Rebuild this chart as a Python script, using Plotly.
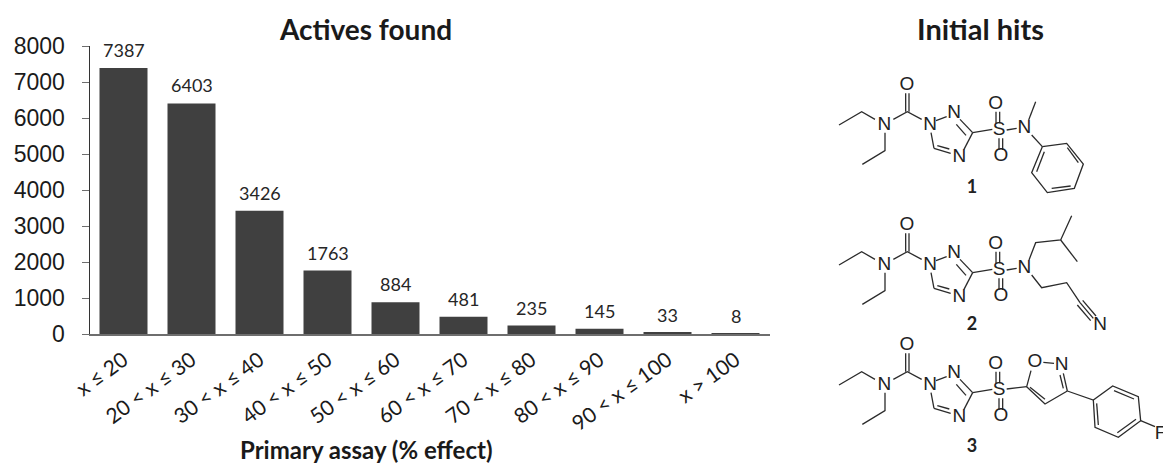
import plotly.graph_objects as go

W, H = 1163, 463
categories = ["x ≤ 20", "20 < x ≤ 30", "30 < x ≤ 40", "40 < x ≤ 50", "50 < x ≤ 60",
              "60 < x ≤ 70", "70 < x ≤ 80", "80 < x ≤ 90", "90 < x ≤ 100", "x > 100"]
actives = [7387, 6403, 3426, 1763, 884, 481, 235, 145, 33, 8]
y_ticks = [0, 1000, 2000, 3000, 4000, 5000, 6000, 7000, 8000]

# Structure drawings: polylines in reference-crop coordinates (3x zoom of an origin at 830, oy)
core_bonds = [
    [(27,195),(95,155),(135,178)], [(165,218),(165,272),(97,313)],
    [(190,178),(232,155),(275,178)], [(227,155),(227,100)], [(237,155),(237,100)],
    [(318,182),(350,170)], [(390,178),(428,218)], [(379,193),(408,226)],
    [(428,218),(487,208)], [(428,218),(402,268)], [(362,280),(312,265)], [(358,267),(322,257)],
    [(312,265),(303,218)], [(498,190),(498,155)], [(509,190),(509,155)],
    [(507,235),(507,270)], [(518,235),(518,270)],
]
core_atoms = [("O",231,75),("N",163,195),("N",300,195),("N",372,160),("S",507,212),
              ("N",388,292),("O",497,133),("O",513,290)]

mol1_bonds = [
    [(530,210),(560,205)], [(596,180),(617,125)], [(605,225),(637,260)],
    [(637,260),(710,250),(760,312),(733,385),(652,398),(605,338),(637,260)],
    [(712,263),(745,308)], [(722,378),(665,385)], [(620,335),(643,275)],
]
mol1_atoms = [("N",583,205)]
mol2_bonds = [
    [(530,210),(560,205)], [(597,180),(617,128),(692,120),(725,47)], [(692,120),(742,185)],
    [(605,225),(635,263),(710,248),(750,308)],
    [(750,308),(790,355)], [(742,315),(782,362)], [(758,301),(798,348)],
]
mol2_atoms = [("N",583,205),("N",810,375)]
mol3_bonds = [
    [(530,177),(590,170)], [(603,122),(590,170),(645,222),(712,183)], [(600,172),(645,208)],
    [(640,97),(672,100)], [(700,130),(712,183)], [(690,135),(700,175)],
    [(712,183),(790,210),(848,168),(925,200),(932,272),(865,322),(795,292),(790,210)],
    [(852,182),(912,207)], [(918,268),(862,308)], [(805,285),(800,220)],
    [(932,272),(975,290)],
]
mol3_atoms = [("O",615,98),("N",695,105),("F",992,312)]

molecules = [(60, 0, mol1_bonds, mol1_atoms), (200, 0, mol2_bonds, mol2_atoms), (330, -30, mol3_bonds, mol3_atoms)]
compound_labels = [("1", 972, 188), ("2", 972, 325), ("3", 972, 447)]

fig = go.Figure()
fig.add_bar(x=categories, y=actives, marker=dict(color="#404040", line=dict(width=0)),
            showlegend=False, hoverinfo="x+y")

bx, by, tx, ty, ts = [], [], [], [], []
for oy, dy, bonds, atoms in molecules:
    for poly in core_bonds:
        for (a, b) in poly:
            bx.append(830 + a / 3); by.append(oy + (b + dy) / 3)
        bx.append(None); by.append(None)
    for poly in bonds:
        for (a, b) in poly:
            bx.append(830 + a / 3); by.append(oy + b / 3)
        bx.append(None); by.append(None)
    for s, a, b in core_atoms:
        ts.append(s); tx.append(830 + a / 3); ty.append(oy + (b + dy) / 3)
    for s, a, b in atoms:
        ts.append(s); tx.append(830 + a / 3); ty.append(oy + b / 3)

fig.add_scatter(x=bx, y=by, mode="lines", xaxis="x2", yaxis="y2", showlegend=False, hoverinfo="skip",
                line=dict(color="#2b2b2b", width=1.3))
fig.add_scatter(x=tx, y=ty, mode="text", text=ts, xaxis="x2", yaxis="y2", showlegend=False, hoverinfo="skip",
                textposition="middle center", cliponaxis=False,
                textfont=dict(family="Liberation Sans", size=19, color="#222222"))
fig.add_scatter(x=[c[1] for c in compound_labels], y=[c[2] for c in compound_labels],
                text=["<b>%s</b>" % c[0] for c in compound_labels], mode="text", xaxis="x2", yaxis="y2",
                showlegend=False, hoverinfo="skip", textposition="middle center",
                textfont=dict(family="Lato", size=18, color="#222222"))

value_labels = [
    dict(text=str(v), x=c, y=v, xref="x", yref="y", showarrow=False, xanchor="center", yanchor="middle",
         yshift=18, font=dict(family="Lato", size=18, color="#262626"))
    for c, v in zip(categories, actives)
]

fig.update_layout(
    width=W, height=H, autosize=False, paper_bgcolor="white", plot_bgcolor="rgba(0,0,0,0)",
    margin=dict(l=0, r=0, t=0, b=0), bargap=0.294,
    title=dict(text="<b>Actives found</b>", x=366 / W, xanchor="center", y=1 - 30 / H, yanchor="middle",
               font=dict(family="Lato", size=28, color="#1a1a1a")),
    xaxis=dict(domain=[89.5 / W, 769.5 / W], type="category", tickangle=-36, ticks="", showgrid=False,
               showline=True, linecolor="#6e6e6e", linewidth=1.5, automargin=False, ticklabelstandoff=4,
               tickfont=dict(family="Lato", size=21, color="#1a1a1a")),
    yaxis=dict(domain=[1 - 334 / H, 1 - 46 / H], range=[0, 8000], tickvals=y_ticks, ticks="outside", ticklen=7,
               tickcolor="#6e6e6e", showgrid=False, zeroline=False, showline=True, linecolor="#333333", linewidth=1,
               automargin=False, ticklabelstandoff=12, tickfont=dict(family="Liberation Sans", size=23, color="#1a1a1a")),
    xaxis2=dict(domain=[0, 1], range=[0, W], visible=False, fixedrange=True, anchor="y2"),
    yaxis2=dict(domain=[0, 1], range=[H, 0], visible=False, fixedrange=True, anchor="x2"),
    annotations=value_labels + [
        dict(text="<b>Initial hits</b>", xref="paper", yref="paper", x=980 / W, y=1 - 28 / H,
             xanchor="center", yanchor="middle", showarrow=False,
             font=dict(family="Lato", size=29, color="#1a1a1a")),
        dict(text="<b>Primary assay (% effect)</b>", xref="paper", yref="paper", x=366 / W, y=1 - 449 / H,
             xanchor="center", yanchor="middle", showarrow=False,
             font=dict(family="Lato", size=24, color="#1a1a1a")),
    ],
)
fig.write_html("out.html", config={"displayModeBar": False},
               post_script="document.body.style.margin='0';document.documentElement.style.overflow='hidden';")
